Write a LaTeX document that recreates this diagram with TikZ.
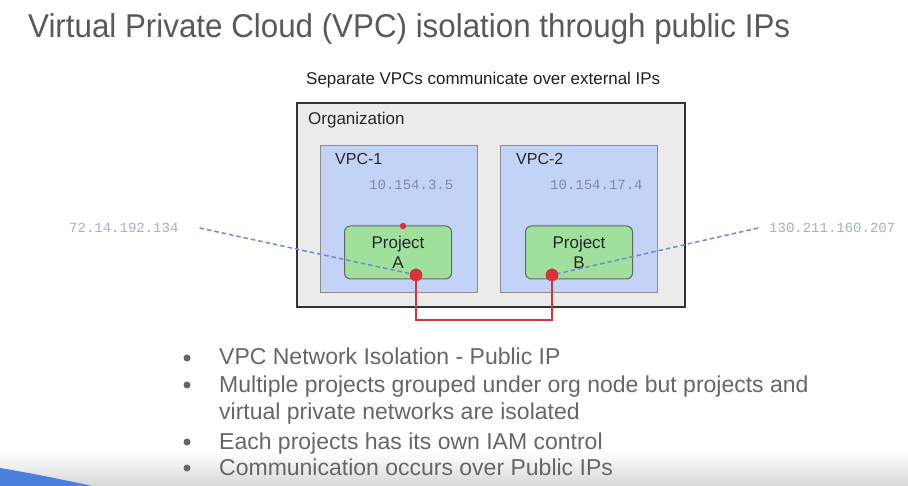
\documentclass[tikz,border=0pt]{standalone}
\usepackage{fontspec}
\usepackage{graphicx}
\setmainfont{Liberation Sans}
\newfontfamily\ipfont{Liberation Mono}
\definecolor{titlegray}{HTML}{595959}
\definecolor{bodygray}{HTML}{666666}
\definecolor{orgfill}{HTML}{EBEBEB}
\definecolor{orgline}{HTML}{333333}
\definecolor{vpcfill}{HTML}{C3D3F7}
\definecolor{vpcline}{HTML}{8C8C8C}
\definecolor{projfill}{HTML}{9FE09C}
\definecolor{projline}{HTML}{5F6B5F}
\definecolor{linkred}{HTML}{D9343D}
\definecolor{innerip}{HTML}{8089AD}
\definecolor{outerip}{HTML}{A6AECF}
\definecolor{dashblue}{HTML}{6E8CD2}
\definecolor{wedgeblue}{HTML}{4A7FDD}
% text squeezed or stretched to a given width, keeping its height
\newcommand\fitw[3]{\resizebox{#1}{\height}{\fontsize{#2}{#2}\selectfont #3}}
\tikzset{
  orgbox/.style={draw=orgline, line width=1.8pt, fill=orgfill, inner sep=0pt, anchor=north west},
  vpcbox/.style={draw=vpcline, line width=1pt, fill=vpcfill, inner sep=0pt, anchor=north west,
                 minimum width=157pt, minimum height=147pt},
  projbox/.style={draw=projline, line width=1pt, fill=projfill, rounded corners=6pt,
                  minimum width=107pt, minimum height=53pt, align=center, inner sep=0pt,
                  font=\fontsize{17}{20}\selectfont, text=black!85},
  boxlabel/.style={anchor=base west, inner sep=0pt, text=black!85},
  ipinner/.style={anchor=base west, inner sep=0pt, text=innerip, font=\ipfont\fontsize{14}{14}\selectfont},
  ipouter/.style={inner sep=0pt, text=outerip, font=\ipfont\fontsize{14}{14}\selectfont},
  bigdot/.style={circle, fill=linkred, inner sep=0pt, minimum size=12.5pt},
  smalldot/.style={circle, fill=linkred, inner sep=0pt, minimum size=6.5pt},
  redlink/.style={draw=linkred, line width=2.8pt},
  ipdash/.style={draw=dashblue, line width=1.5pt, dash pattern=on 4.5pt off 3pt},
  bulletdot/.style={circle, fill=bodygray, inner sep=0pt, minimum size=7pt},
  bullettext/.style={anchor=base west, inner sep=0pt, text=bodygray, font=\fontsize{23}{23}\selectfont},
}
\begin{document}
\begin{tikzpicture}[x=1pt, y=-1pt]
\useasboundingbox (0,0) rectangle (908,486);
\fill[white] (0,0) rectangle (908,486);
% soft shadow along the lower edge and the blue corner sweep
\shade[top color=white, bottom color=black!16] (0,452) rectangle (908,486);
\fill[wedgeblue] (0,468) .. controls (30,473) and (60,479) .. (92,486) -- (0,486) -- cycle;

% headings
\node[anchor=base west, inner sep=0pt, text=titlegray] (title) at (28,38)
  {\fitw{762pt}{33}{Virtual Private Cloud (VPC) isolation through public IPs}};
\node[anchor=base west, inner sep=0pt, text=black!88] (subtitle) at (306,85)
  {\fitw{354pt}{17}{Separate VPCs communicate over external IPs}};

% organization with its two VPCs
\node[orgbox, minimum width=388pt, minimum height=204pt] (org) at (296,102) {};
\node[boxlabel, font=\fontsize{17}{17}\selectfont] (orglabel) at (308,125) {Organization};

\node[vpcbox] (vpc1) at (320,145) {};
\node[vpcbox] (vpc2) at (500,145) {};
\node[boxlabel, font=\fontsize{16}{16}\selectfont] (vpc1label) at (335,165) {VPC-1};
\node[boxlabel, font=\fontsize{16}{16}\selectfont] (vpc2label) at (516,165) {VPC-2};
\node[ipinner] (ip1) at (369,190) {10.154.3.5};
\node[ipinner] (ip2) at (550,190) {10.154.17.4};

\node[projbox] (projA) at (398,252.5) {Project\\A};
\node[projbox] (projB) at (579,252.5) {Project\\B};

% public addresses reaching the projects
\node[ipouter, anchor=west] (pubA) at (69,228) {72.14.192.134};
\node[ipouter, anchor=west] (pubB) at (769,228) {130.211.160.207};

\node[bigdot] (dotA) at (416,275) {};
\node[bigdot] (dotB) at (552,275) {};
\node[smalldot] (dotTop) at (403,226) {};

\draw[ipdash] ([xshift=21pt]pubA.east) -- (dotA.center);
\draw[ipdash] ([xshift=-11pt]pubB.west) -- (dotB.center);
\draw[redlink] (dotA.center) -- ++(0,45) -| (dotB.center);
\node[bigdot] at (dotA) {};
\node[bigdot] at (dotB) {};

% notes
\node[bulletdot] (b1) at (187,358) {};
\node[bulletdot] (b2) at (187,385) {};
\node[bulletdot] (b3) at (187,442) {};
\node[bulletdot] (b4) at (187,468) {};
\node[bullettext] (t1) at (219,365) {VPC Network Isolation - Public IP};
\node[bullettext] (t2) at (219,392) {Multiple projects grouped under org node but projects and};
\node[bullettext] (t2b) at (219,419) {virtual private networks are isolated};
\node[bullettext] (t3) at (219,449) {Each projects has its own IAM control};
\node[bullettext] (t4) at (219,475) {Communication occurs over Public IPs};
\end{tikzpicture}
\end{document}
